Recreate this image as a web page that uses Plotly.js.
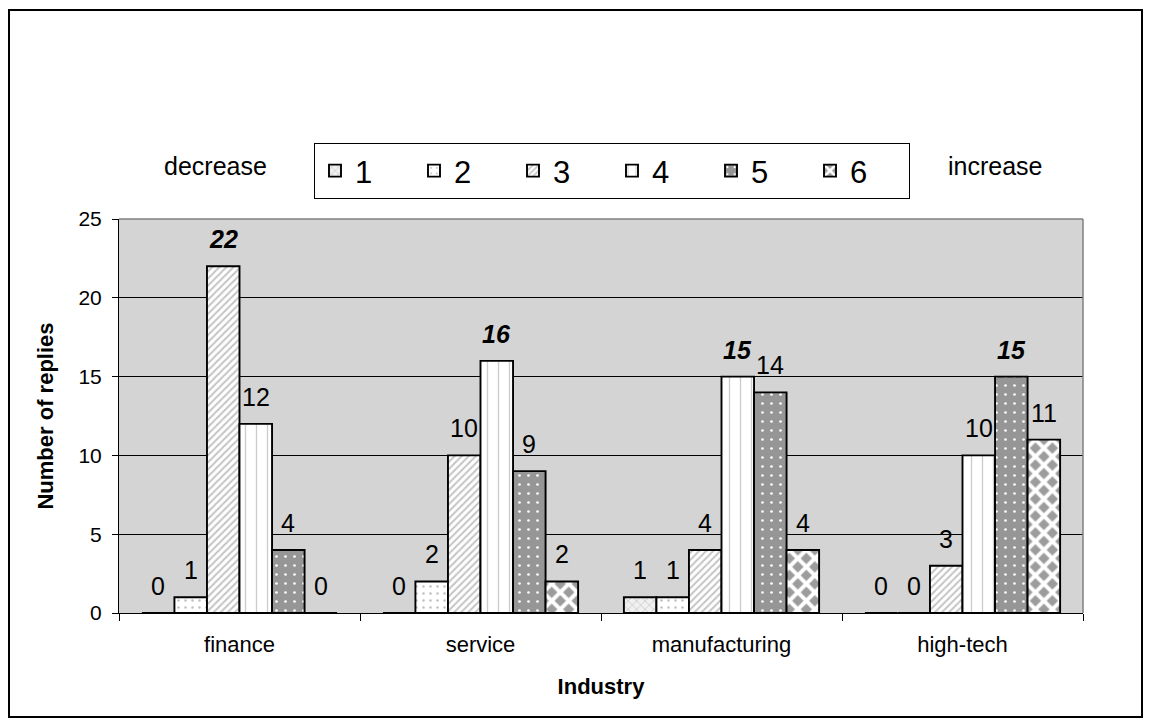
<!DOCTYPE html>
<html>
<head>
<meta charset="utf-8">
<script src="https://cdn.plot.ly/plotly-3.0.1.min.js"></script>
<style>
  html, body { margin: 0; padding: 0; background: #ffffff; }
  #chart { width: 1152px; height: 727px; }
</style>
</head>
<body>
<div id="chart"></div>
<script>
// ---- data ----
const categories = ['finance', 'service', 'manufacturing', 'high-tech'];
const seriesNames = ['1', '2', '3', '4', '5', '6'];
const s1 = [0, 0, 1, 0];
const s2 = [1, 2, 1, 0];
const s3 = [22, 10, 4, 3];
const s4 = [12, 16, 15, 10];
const s5 = [4, 9, 14, 15];
const s6 = [0, 2, 4, 11];
const yTicks = [0, 5, 10, 15, 20, 25];
const xTitle = 'Industry';
const yTitle = 'Number of replies';
const leftNote = 'decrease';
const rightNote = 'increase';

const allSeries = [s1, s2, s3, s4, s5, s6];

// ---- styling ----
const FONT = 'Liberation Sans, Arial, sans-serif';
const patterns = [
  {shape: 'x', bgcolor: '#f0f0f0', fgcolor: '#b0b0b0', size: 6, solidity: 0.15},
  {shape: '.', bgcolor: '#ffffff', fgcolor: '#c0c0c0', size: 7, solidity: 0.1},
  {shape: '/', bgcolor: '#ffffff', fgcolor: '#c4c4c4', size: 5, solidity: 0.4},
  {shape: '|', bgcolor: '#ffffff', fgcolor: '#cccccc', size: 11, solidity: 0.12},
  {shape: '.', bgcolor: '#969696', fgcolor: '#ffffff', size: 9, solidity: 0.07},
  {shape: 'x', bgcolor: '#9c9c9c', fgcolor: '#ffffff', size: 12, solidity: 0.55}
];

const L = 119, R = 69, T = 219, B = 114;
const W = 1152 - L - R, H = 727 - T - B;
const px = x => (x - L) / W;
const py = y => (727 - B - y) / H;
const BARGAP = 0.19;
const barW = (W / categories.length) * (1 - BARGAP) / allSeries.length;

// max per category gets bold italic label
const catMax = categories.map((c, i) => Math.max(...allSeries.map(s => s[i])));

const traces = allSeries.map((vals, k) => ({
  type: 'bar',
  name: seriesNames[k],
  x: categories,
  y: vals,
  marker: {
    color: patterns[k].bgcolor,
    pattern: {
      shape: patterns[k].shape,
      bgcolor: patterns[k].bgcolor,
      fgcolor: patterns[k].fgcolor,
      size: patterns[k].size,
      solidity: patterns[k].solidity,
      fillmode: 'replace'
    },
    line: {color: '#000000', width: 1.9}
  },
  hoverinfo: 'skip'
}));

// value labels placed at each bar's data position
const labelAnnots = [];
allSeries.forEach((vals, k) => {
  vals.forEach((v, i) => {
    labelAnnots.push({
      x: categories[i], y: v, xref: 'x', yref: 'y',
      text: v === catMax[i] ? '<b><i>' + v + '</i></b>' : String(v),
      showarrow: false,
      xanchor: 'center', yanchor: 'bottom',
      xshift: (k - (allSeries.length - 1) / 2) * barW,
      yshift: 11,
      font: {family: FONT, size: 25, color: '#000000'}
    });
  });
});

const layout = {
  width: 1152,
  height: 727,
  margin: {l: L, r: R, t: T, b: B, pad: 0},
  paper_bgcolor: '#ffffff',
  plot_bgcolor: '#d4d4d4',
  font: {family: FONT, color: '#000000'},
  barmode: 'group',
  bargap: BARGAP,
  bargroupgap: 0,
  showlegend: true,
  legend: {
    orientation: 'h',
    x: px(612), xanchor: 'center',
    y: py(143), yanchor: 'top',
    bgcolor: '#ffffff',
    bordercolor: '#000000',
    borderwidth: 1,
    font: {family: FONT, size: 31, color: '#000000'},
    entrywidth: 54,
    itemwidth: 30,
    traceorder: 'normal'
  },
  xaxis: {
    type: 'category',
    showgrid: false,
    showline: true,
    linecolor: '#000000',
    linewidth: 1,
    ticks: 'outside',
    tickson: 'boundaries',
    ticklen: 7,
    tickcolor: '#000000',
    tickfont: {family: FONT, size: 22, color: '#000000'},
    ticklabelstandoff: 12,
    title: {text: xTitle, font: {family: FONT, size: 22, color: '#000000', weight: 'bold'}, standoff: 22},
    fixedrange: true
  },
  yaxis: {
    range: [0, 25],
    tickvals: yTicks,
    showgrid: true,
    gridcolor: '#000000',
    gridwidth: 1,
    zeroline: false,
    showline: true,
    linecolor: '#000000',
    linewidth: 1,
    ticks: 'outside',
    ticklen: 6,
    tickcolor: '#000000',
    tickfont: {family: FONT, size: 21, color: '#000000'},
    ticklabelstandoff: 6,
    title: {text: yTitle, font: {family: FONT, size: 22, color: '#000000', weight: 'bold'}, standoff: 18},
    fixedrange: true
  },
  annotations: [
    {text: leftNote, xref: 'paper', yref: 'paper', x: px(215), y: py(166), xanchor: 'center', yanchor: 'middle', showarrow: false, font: {family: FONT, size: 25, color: '#000000'}},
    {text: rightNote, xref: 'paper', yref: 'paper', x: px(995), y: py(166), xanchor: 'center', yanchor: 'middle', showarrow: false, font: {family: FONT, size: 25, color: '#000000'}}
  ].concat(labelAnnots),
  shapes: [
    {type: 'line', xref: 'paper', yref: 'paper', x0: 0, x1: 1, y0: 1, y1: 1, line: {color: '#808080', width: 1.5}, layer: 'above'},
    {type: 'line', xref: 'paper', yref: 'paper', x0: 1, x1: 1, y0: 0, y1: 1, line: {color: '#808080', width: 1.5}, layer: 'above'},
    {type: 'rect', xref: 'paper', yref: 'paper', x0: px(9), x1: px(1142), y0: py(10), y1: py(717), line: {color: '#000000', width: 2}, fillcolor: 'rgba(0,0,0,0)', layer: 'above'}
  ]
};

Plotly.newPlot('chart', traces, layout, {staticPlot: true, displayModeBar: false});
</script>
</body>
</html>
